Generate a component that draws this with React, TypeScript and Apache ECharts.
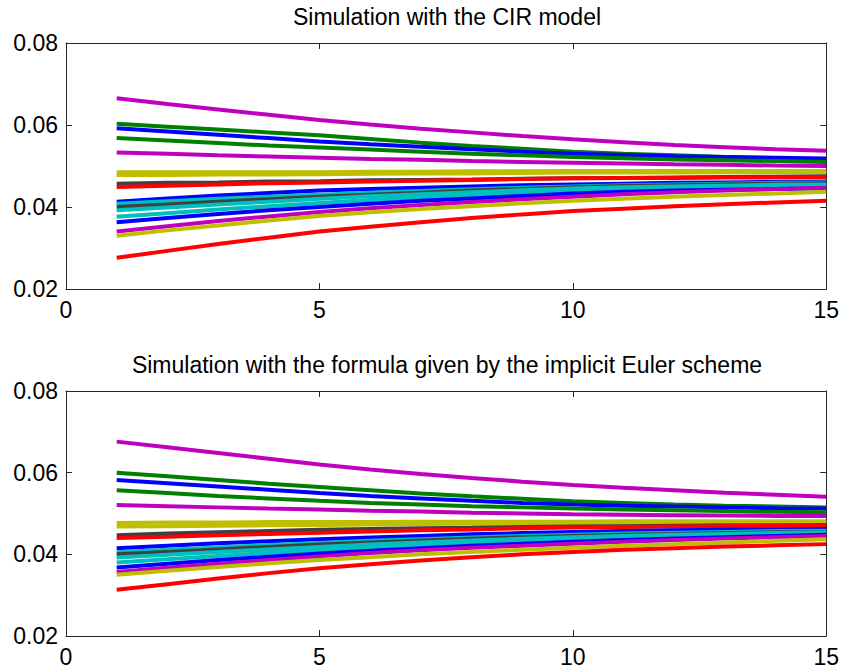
import React, { useEffect, useRef } from "react";
import * as echarts from "echarts";

const xValues = [1, 2, 3, 4, 5, 6, 7, 8, 9, 10, 11, 12, 13, 14, 15];
const xTicks = ["0", "5", "10", "15"];
const yTicks = ["0.02", "0.04", "0.06", "0.08"];
const titles = [
  "Simulation with the CIR model",
  "Simulation with the formula given by the implicit Euler scheme",
];

const BLUE = "#0000ff";
const GREEN = "#008000";
const RED = "#ff0000";
const CYAN = "#00bfbf";
const MAGENTA = "#bf00bf";
const YELLOW = "#bfbf00";
const GRAY = "#404040";

const lineColors = [
  MAGENTA, GREEN, BLUE, GREEN, MAGENTA, YELLOW, YELLOW, GRAY, RED,
  BLUE, CYAN, GRAY, CYAN, CYAN, BLUE, MAGENTA, YELLOW, RED,
];

const cirPaths: number[][] = [
  [0.0665, 0.0651, 0.0638, 0.0625, 0.0612, 0.0601, 0.0591, 0.0582, 0.0573, 0.0565, 0.0558, 0.0551, 0.0546, 0.0541, 0.0537],
  [0.0603, 0.0596, 0.0589, 0.0582, 0.0575, 0.0566, 0.0557, 0.0549, 0.0542, 0.0535, 0.0530, 0.0526, 0.0522, 0.0518, 0.0515],
  [0.0592, 0.0584, 0.0576, 0.0568, 0.0560, 0.0553, 0.0547, 0.0541, 0.0535, 0.0530, 0.0527, 0.0524, 0.0522, 0.0520, 0.0518],
  [0.0568, 0.0562, 0.0556, 0.0550, 0.0545, 0.0540, 0.0535, 0.0530, 0.0526, 0.0522, 0.0519, 0.0516, 0.0514, 0.0512, 0.0510],
  [0.0533, 0.0530, 0.0526, 0.0523, 0.0520, 0.0517, 0.0515, 0.0512, 0.0510, 0.0508, 0.0506, 0.0504, 0.0503, 0.0501, 0.0500],
  [0.0485, 0.0485, 0.0485, 0.0485, 0.0485, 0.0486, 0.0486, 0.0487, 0.0487, 0.0488, 0.0488, 0.0488, 0.0488, 0.0488, 0.0488],
  [0.0478, 0.0478, 0.0479, 0.0479, 0.0480, 0.0481, 0.0482, 0.0482, 0.0483, 0.0484, 0.0484, 0.0484, 0.0485, 0.0485, 0.0485],
  [0.0457, 0.0459, 0.0460, 0.0462, 0.0463, 0.0465, 0.0466, 0.0467, 0.0469, 0.0470, 0.0471, 0.0472, 0.0473, 0.0474, 0.0475],
  [0.0449, 0.0452, 0.0455, 0.0458, 0.0460, 0.0462, 0.0464, 0.0466, 0.0468, 0.0470, 0.0471, 0.0471, 0.0472, 0.0472, 0.0473],
  [0.0413, 0.0421, 0.0428, 0.0434, 0.0440, 0.0444, 0.0447, 0.0450, 0.0453, 0.0455, 0.0457, 0.0459, 0.0460, 0.0461, 0.0462],
  [0.0408, 0.0414, 0.0420, 0.0425, 0.0430, 0.0435, 0.0439, 0.0443, 0.0447, 0.0450, 0.0453, 0.0455, 0.0457, 0.0459, 0.0460],
  [0.0400, 0.0406, 0.0413, 0.0419, 0.0425, 0.0430, 0.0435, 0.0440, 0.0444, 0.0448, 0.0451, 0.0453, 0.0455, 0.0457, 0.0458],
  [0.0392, 0.0399, 0.0406, 0.0413, 0.0420, 0.0426, 0.0431, 0.0436, 0.0441, 0.0445, 0.0448, 0.0450, 0.0452, 0.0454, 0.0455],
  [0.0376, 0.0385, 0.0394, 0.0402, 0.0410, 0.0417, 0.0423, 0.0429, 0.0434, 0.0438, 0.0442, 0.0445, 0.0448, 0.0450, 0.0452],
  [0.0363, 0.0373, 0.0383, 0.0392, 0.0400, 0.0408, 0.0415, 0.0421, 0.0427, 0.0433, 0.0437, 0.0440, 0.0442, 0.0444, 0.0446],
  [0.0340, 0.0353, 0.0366, 0.0377, 0.0388, 0.0397, 0.0405, 0.0412, 0.0419, 0.0425, 0.0431, 0.0436, 0.0440, 0.0444, 0.0447],
  [0.0330, 0.0343, 0.0355, 0.0367, 0.0378, 0.0387, 0.0395, 0.0402, 0.0409, 0.0415, 0.0420, 0.0425, 0.0429, 0.0433, 0.0437],
  [0.0276, 0.0293, 0.0310, 0.0325, 0.0340, 0.0352, 0.0363, 0.0373, 0.0382, 0.0390, 0.0396, 0.0402, 0.0407, 0.0411, 0.0415],
];

const eulerPaths: number[][] = [
  [0.0676, 0.0662, 0.0648, 0.0634, 0.0620, 0.0608, 0.0597, 0.0587, 0.0578, 0.0570, 0.0563, 0.0557, 0.0551, 0.0546, 0.0541],
  [0.0600, 0.0591, 0.0582, 0.0573, 0.0565, 0.0557, 0.0549, 0.0542, 0.0536, 0.0530, 0.0526, 0.0522, 0.0519, 0.0517, 0.0515],
  [0.0582, 0.0574, 0.0566, 0.0558, 0.0550, 0.0543, 0.0537, 0.0531, 0.0526, 0.0522, 0.0519, 0.0517, 0.0515, 0.0513, 0.0512],
  [0.0557, 0.0550, 0.0543, 0.0537, 0.0531, 0.0526, 0.0522, 0.0518, 0.0515, 0.0512, 0.0510, 0.0508, 0.0506, 0.0504, 0.0503],
  [0.0521, 0.0518, 0.0515, 0.0512, 0.0510, 0.0507, 0.0505, 0.0502, 0.0500, 0.0498, 0.0497, 0.0496, 0.0495, 0.0494, 0.0494],
  [0.0477, 0.0478, 0.0478, 0.0479, 0.0479, 0.0479, 0.0480, 0.0480, 0.0480, 0.0480, 0.0481, 0.0481, 0.0481, 0.0481, 0.0481],
  [0.0468, 0.0469, 0.0470, 0.0471, 0.0472, 0.0473, 0.0474, 0.0475, 0.0475, 0.0476, 0.0477, 0.0477, 0.0478, 0.0478, 0.0478],
  [0.0447, 0.0451, 0.0454, 0.0457, 0.0460, 0.0462, 0.0464, 0.0465, 0.0467, 0.0468, 0.0469, 0.0470, 0.0471, 0.0471, 0.0472],
  [0.0440, 0.0443, 0.0447, 0.0450, 0.0453, 0.0456, 0.0459, 0.0461, 0.0464, 0.0466, 0.0467, 0.0468, 0.0469, 0.0470, 0.0470],
  [0.0415, 0.0421, 0.0427, 0.0432, 0.0437, 0.0441, 0.0445, 0.0449, 0.0452, 0.0455, 0.0457, 0.0459, 0.0460, 0.0461, 0.0462],
  [0.0405, 0.0411, 0.0417, 0.0423, 0.0428, 0.0433, 0.0437, 0.0441, 0.0445, 0.0448, 0.0451, 0.0453, 0.0455, 0.0457, 0.0458],
  [0.0400, 0.0406, 0.0412, 0.0418, 0.0424, 0.0429, 0.0434, 0.0438, 0.0442, 0.0445, 0.0448, 0.0450, 0.0452, 0.0454, 0.0455],
  [0.0392, 0.0399, 0.0406, 0.0412, 0.0418, 0.0424, 0.0429, 0.0434, 0.0438, 0.0442, 0.0445, 0.0448, 0.0450, 0.0452, 0.0454],
  [0.0380, 0.0388, 0.0396, 0.0403, 0.0410, 0.0416, 0.0422, 0.0427, 0.0432, 0.0436, 0.0440, 0.0444, 0.0447, 0.0450, 0.0452],
  [0.0368, 0.0377, 0.0386, 0.0394, 0.0402, 0.0409, 0.0415, 0.0421, 0.0426, 0.0431, 0.0435, 0.0439, 0.0442, 0.0445, 0.0448],
  [0.0357, 0.0367, 0.0377, 0.0386, 0.0395, 0.0403, 0.0410, 0.0416, 0.0421, 0.0426, 0.0431, 0.0435, 0.0439, 0.0442, 0.0445],
  [0.0350, 0.0360, 0.0369, 0.0378, 0.0386, 0.0393, 0.0400, 0.0406, 0.0411, 0.0416, 0.0421, 0.0425, 0.0429, 0.0433, 0.0437],
  [0.0313, 0.0327, 0.0341, 0.0354, 0.0366, 0.0376, 0.0385, 0.0393, 0.0400, 0.0406, 0.0411, 0.0415, 0.0419, 0.0422, 0.0425],
];

const FONT = "'Liberation Sans', Arial, sans-serif";
const AXIS_COLOR = "#262626";

export default function App() {
  const ref = useRef<HTMLDivElement>(null);

  useEffect(() => {
    if (!ref.current) return;
    const chart = echarts.init(ref.current, null, { renderer: "svg" });

    const grids = [
      { left: 66, right: 14, top: 43, height: 246 },
      { left: 66, right: 14, top: 391, height: 245 },
    ];

    const xAxes: any[] = [];
    const yAxes: any[] = [];
    grids.forEach((_, gi) => {
      ["bottom", "top"].forEach((pos) => {
        xAxes.push({
          type: "value",
          gridIndex: gi,
          position: pos,
          min: 0,
          max: 15,
          interval: 5,
          axisLine: { show: true, onZero: false, lineStyle: { color: AXIS_COLOR, width: 1 } },
          axisTick: { show: true, inside: true, length: 6, lineStyle: { color: AXIS_COLOR } },
          axisLabel: {
            show: pos === "bottom",
            color: "#000",
            fontFamily: FONT,
            fontSize: 23,
            margin: 9,
            formatter: (v: number) => xTicks[Math.round(v / 5)] ?? "",
          },
          splitLine: { show: false },
        });
      });
      ["left", "right"].forEach((pos) => {
        yAxes.push({
          type: "value",
          gridIndex: gi,
          position: pos,
          min: 0.02,
          max: 0.08,
          interval: 0.02,
          axisLine: { show: true, onZero: false, lineStyle: { color: AXIS_COLOR, width: 1 } },
          axisTick: { show: true, inside: true, length: 6, lineStyle: { color: AXIS_COLOR } },
          axisLabel: {
            show: pos === "left",
            color: "#000",
            fontFamily: FONT,
            fontSize: 23,
            margin: 8,
            formatter: (v: number) => yTicks[Math.round((v - 0.02) / 0.02)] ?? "",
          },
          splitLine: { show: false },
        });
      });
    });

    const series: any[] = [];
    [cirPaths, eulerPaths].forEach((paths, gi) => {
      paths.forEach((p, i) => {
        series.push({
          type: "line",
          xAxisIndex: gi * 2,
          yAxisIndex: gi * 2,
          data: xValues.map((x, k) => [x, p[k]]),
          showSymbol: false,
          symbol: "none",
          lineStyle: { color: lineColors[i], width: 4 },
          itemStyle: { color: lineColors[i] },
          silent: true,
        });
      });
    });

    chart.setOption({
      animation: false,
      backgroundColor: "#ffffff",
      grid: grids,
      xAxis: xAxes,
      yAxis: yAxes,
      series,
      graphic: [
        {
          type: "text",
          x: 447,
          y: 17,
          style: {
            text: titles[0],
            font: `23px ${FONT}`,
            fill: "#000",
            align: "center",
            verticalAlign: "middle",
          },
        },
        {
          type: "text",
          x: 447,
          y: 365,
          style: {
            text: titles[1],
            font: `23px ${FONT}`,
            fill: "#000",
            align: "center",
            verticalAlign: "middle",
          },
        },
      ],
    });

    return () => chart.dispose();
  }, []);

  return (
    <div
      ref={ref}
      style={{ position: "fixed", left: 0, top: 0, width: 842, height: 671, background: "#fff" }}
    />
  );
}
